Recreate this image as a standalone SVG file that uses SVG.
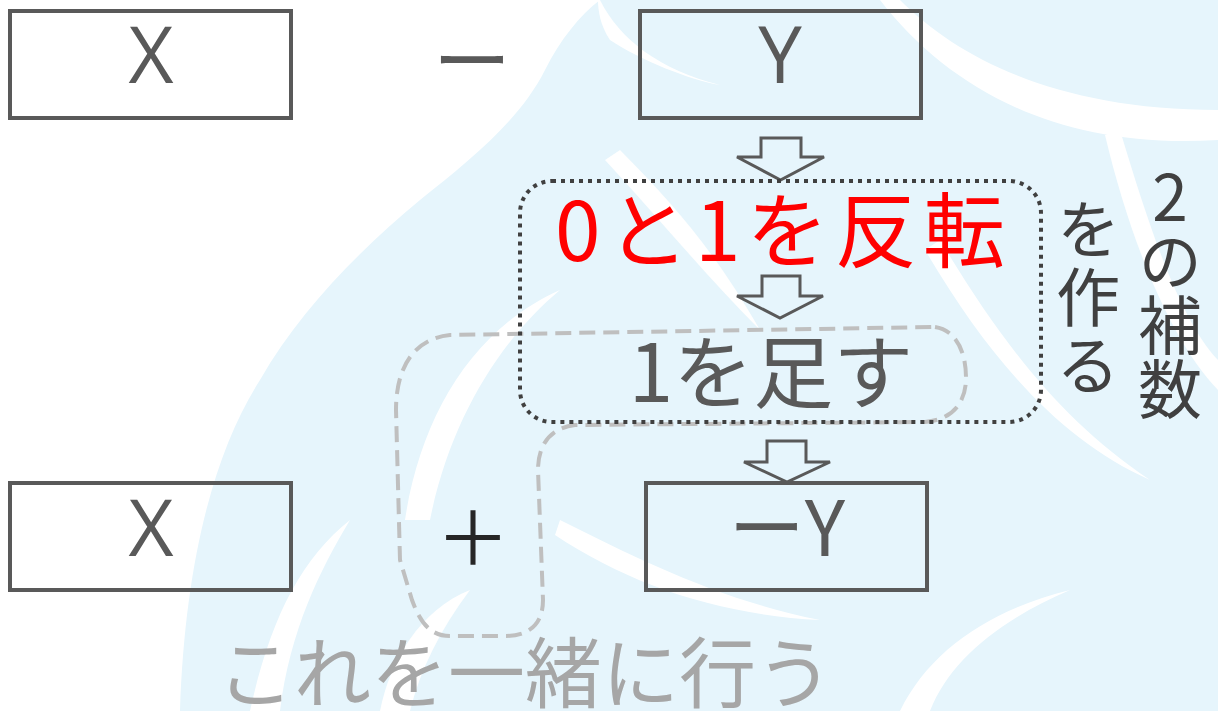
<svg xmlns="http://www.w3.org/2000/svg" width="1218" height="711" viewBox="0 0 1218 711">
<style>
.box{fill:none;stroke:#595959;stroke-width:4}
.arr{fill:none;stroke:#595959;stroke-width:3;stroke-linejoin:miter}
.jp{font-family:"Noto Sans CJK JP","Noto Sans",sans-serif}
.lbl{font-size:78px;fill:#595959;text-anchor:middle;font-family:"Open Sans","Noto Sans CJK JP",sans-serif}
.vt{writing-mode:vertical-rl;text-orientation:upright;font-size:64px;fill:#404040}
.bg{fill:#e6f5fc}
.wh{fill:#ffffff}
</style>
<rect width="1218" height="711" fill="#ffffff"/>
<g id="watermark">
<path class="bg" d="M180,711 C185,560 215,450 260,380 C300,310 360,250 420,200 C470,160 520,120 545,70 C560,40 580,15 600,0 L1218,0 L1218,711 Z"/>
<path class="wh" d="M900,0 C960,60 1060,110 1218,110 L1218,140 C1060,150 950,90 880,0 Z"/>
<path class="wh" d="M600,0 C620,40 660,70 720,85 C690,80 640,60 610,40 C600,25 598,10 598,0 Z"/>
<path class="wh" d="M405,520 C420,420 470,330 560,290 C500,340 450,420 430,520 Z"/>
<path class="wh" d="M250,711 C270,620 300,560 350,520 C320,570 290,630 280,711 Z"/>
<path class="wh" d="M560,520 C640,560 720,600 820,620 C720,615 630,585 555,535 Z"/>
<path class="wh" d="M940,240 C1000,340 1060,420 1150,480 C1060,440 990,360 925,250 Z"/>
<path class="wh" d="M900,711 C930,650 990,610 1070,590 C1000,620 950,660 930,711 Z"/>
<path class="wh" d="M1120,130 C1150,230 1180,320 1218,360 L1218,390 C1170,340 1130,240 1105,135 Z"/>
<path class="wh" d="M620,150 C680,210 720,260 760,330 C710,280 660,220 605,160 Z"/>
<path class="wh" d="M380,711 C390,660 420,610 470,590 C440,630 420,670 410,711 Z"/>
</g>
<g id="connectors">
<path class="arr" d="M761,138 H801 V157 H824 L780.5,180 L737,157 H761 Z"/>
<path class="arr" d="M762,276 H800 V296 H823 L780,318 L737,296 H762 Z"/>
<path class="arr" d="M767,441 H806 V462 H830 L787,482 L744,462 H767 Z"/>
</g>
<g id="group-dashed">
<path fill="none" stroke="#bfbfbf" stroke-width="4" stroke-dasharray="16,8" d="M935,327 C955,330 966,350 966,378 C966,405 950,420 925,422 L575,425 C550,428 538,445 538,470 L543,600 C543,625 528,636 505,636 L450,636 C430,636 420,622 412,600 L400,560 L396,410 C396,360 420,338 450,335 Z"/>
</g>
<g id="group-dotted">
<rect x="520" y="181" width="521" height="241" rx="32" fill="none" stroke="#404040" stroke-width="4" stroke-dasharray="4,5"/>
</g>
<g id="node-x-top">
<rect class="box" x="10" y="11" width="281" height="107"/>
<text class="lbl" x="151" y="83">X</text>
</g>
<g id="node-minus">
<text class="jp" x="472" y="56" font-size="78" fill="#595959" text-anchor="middle" dominant-baseline="central">ー</text>
</g>
<g id="node-y-top">
<rect class="box" x="640" y="11" width="281" height="107"/>
<text class="lbl" x="780" y="83">Y</text>
</g>
<g id="node-invert">
<text class="jp" x="780" y="261" font-size="82" fill="#ff0000" text-anchor="middle" textLength="450" lengthAdjust="spacing">0と1を反転</text>
</g>
<g id="node-add1">
<text class="jp" x="771" y="402" font-size="80" fill="#595959" text-anchor="middle">1を足す</text>
</g>
<g id="node-make">
<text class="jp vt" x="1088" y="197" letter-spacing="4">を作る</text>
</g>
<g id="node-complement">
<text class="jp vt" x="1170" y="165" font-size="66" letter-spacing="0">2の補数</text>
</g>
<g id="node-x-bottom">
<rect class="box" x="10" y="483" width="281" height="107"/>
<text class="lbl" x="151" y="556">X</text>
</g>
<g id="node-plus">
<text class="jp" x="473" y="565" font-size="74" fill="#262626" text-anchor="middle">＋</text>
</g>
<g id="node-negy">
<rect class="box" x="646" y="483" width="281" height="107"/>
<text class="jp" x="787" y="556" font-size="76" fill="#595959" text-anchor="middle">ーY</text>
</g>
<g id="caption">
<text class="jp" x="217" y="702" font-size="77" fill="#a6a6a6">これを一緒に行う</text>
</g>
</svg>
